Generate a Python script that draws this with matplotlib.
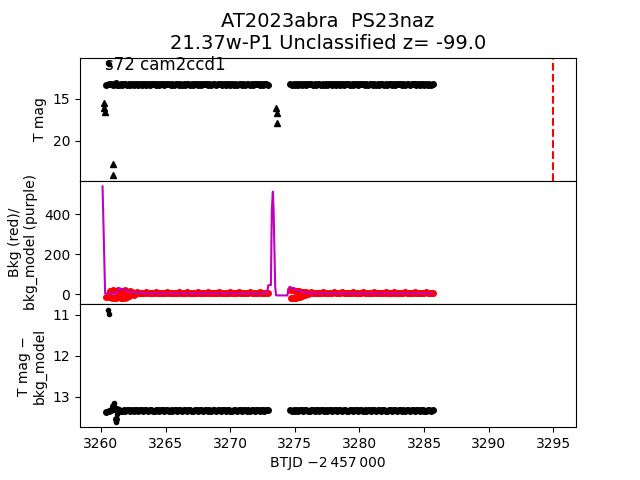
import matplotlib
matplotlib.use("Agg")
import matplotlib.pyplot as plt

# ---- data ----
# regular photometry (one time list shared by all panels)
btjd = [3260.650, 3260.775, 3260.900, 3261.025,
        3261.150, 3261.275, 3261.400, 3261.525, 3261.650, 3261.775, 3261.900, 3262.025,
        3262.150, 3262.275, 3262.400, 3262.525, 3262.650, 3262.775, 3262.900, 3263.025,
        3263.150, 3263.275, 3263.400, 3263.525, 3263.650, 3263.775, 3263.900, 3264.025,
        3264.150, 3264.275, 3264.400, 3264.525, 3264.650, 3264.775, 3264.900, 3265.025,
        3265.150, 3265.275, 3265.400, 3265.525, 3265.650, 3265.775, 3265.900, 3266.025,
        3266.150, 3266.275, 3266.400, 3266.525, 3266.650, 3266.775, 3266.900, 3267.025,
        3267.150, 3267.275, 3267.400, 3267.525, 3267.650, 3267.775, 3267.900, 3268.025,
        3268.150, 3268.275, 3268.400, 3268.525, 3268.650, 3268.775, 3268.900, 3269.025,
        3269.150, 3269.275, 3269.400, 3269.525, 3269.650, 3269.775, 3269.900, 3270.025,
        3270.150, 3270.275, 3270.400, 3270.525, 3270.650, 3270.775, 3270.900, 3271.025,
        3271.150, 3271.275, 3271.400, 3271.525, 3271.650, 3271.775, 3271.900, 3272.025,
        3272.150, 3272.275, 3272.400, 3272.525, 3272.650, 3272.775, 3272.900,
        3274.650, 3274.775, 3274.900, 3275.025,
        3275.150, 3275.275, 3275.400, 3275.525, 3275.650, 3275.775, 3275.900, 3276.025,
        3276.150, 3276.275, 3276.400, 3276.525, 3276.650, 3276.775, 3276.900, 3277.025,
        3277.150, 3277.275, 3277.400, 3277.525, 3277.650, 3277.775, 3277.900, 3278.025,
        3278.150, 3278.275, 3278.400, 3278.525, 3278.650, 3278.775, 3278.900, 3279.025,
        3279.150, 3279.275, 3279.400, 3279.525, 3279.650, 3279.775, 3279.900, 3280.025,
        3280.150, 3280.275, 3280.400, 3280.525, 3280.650, 3280.775, 3280.900, 3281.025,
        3281.150, 3281.275, 3281.400, 3281.525, 3281.650, 3281.775, 3281.900, 3282.025,
        3282.150, 3282.275, 3282.400, 3282.525, 3282.650, 3282.775, 3282.900, 3283.025,
        3283.150, 3283.275, 3283.400, 3283.525, 3283.650, 3283.775, 3283.900, 3284.025,
        3284.150, 3284.275, 3284.400, 3284.525, 3284.650, 3284.775, 3284.900, 3285.025,
        3285.150, 3285.275, 3285.400, 3285.525, 3285.650,
        3260.360]

tmag = [13.22, 13.26, 13.28, 13.20,
        13.14, 13.36, 13.38, 13.22, 13.27, 13.24, 13.23, 13.28,
        13.25, 13.28, 13.23, 13.27, 13.26, 13.24, 13.29, 13.25,
        13.27, 13.23, 13.26, 13.28, 13.24, 13.27, 13.25, 13.23,
        13.24, 13.27, 13.25, 13.29, 13.23, 13.26, 13.28, 13.24,
        13.26, 13.24, 13.28, 13.25, 13.27, 13.23, 13.26, 13.28,
        13.25, 13.28, 13.23, 13.27, 13.26, 13.24, 13.29, 13.25,
        13.27, 13.23, 13.26, 13.28, 13.24, 13.27, 13.25, 13.23,
        13.24, 13.27, 13.25, 13.29, 13.23, 13.26, 13.28, 13.24,
        13.26, 13.24, 13.28, 13.25, 13.27, 13.23, 13.26, 13.28,
        13.25, 13.28, 13.23, 13.27, 13.26, 13.24, 13.29, 13.25,
        13.27, 13.23, 13.26, 13.28, 13.24, 13.27, 13.25, 13.23,
        13.24, 13.27, 13.25, 13.29, 13.23, 13.26, 13.28,
        13.25, 13.28, 13.23, 13.27,
        13.24, 13.27, 13.25, 13.29, 13.23, 13.26, 13.28, 13.24,
        13.26, 13.24, 13.28, 13.25, 13.27, 13.23, 13.26, 13.28,
        13.25, 13.28, 13.23, 13.27, 13.26, 13.24, 13.29, 13.25,
        13.27, 13.23, 13.26, 13.28, 13.24, 13.27, 13.25, 13.23,
        13.24, 13.27, 13.25, 13.29, 13.23, 13.26, 13.28, 13.24,
        13.26, 13.24, 13.28, 13.25, 13.27, 13.23, 13.26, 13.28,
        13.25, 13.28, 13.23, 13.27, 13.26, 13.24, 13.29, 13.25,
        13.27, 13.23, 13.26, 13.28, 13.24, 13.27, 13.25, 13.23,
        13.24, 13.27, 13.25, 13.29, 13.23, 13.26, 13.28, 13.24,
        13.26, 13.24, 13.28, 13.25, 13.27, 13.23, 13.26, 13.28,
        13.25, 13.28, 13.23, 13.27, 13.26,
        13.27]

bkg = [-15, 15, 20, -18,
       -20, 14, 12, -16, -18, 10, 20, -12,
       -10, 15, 12, -5, 4, 10, 8, 6,
       6, 9, 7, 10, 5, 8, 9, 6,
       8, 10, 6, 8, 9, 5, 9, 7,
       10, 6, 8, 9, 7, 5, 8, 10,
       7, 9, 5, 8, 10, 6, 9, 8,
       6, 9, 7, 10, 5, 8, 9, 6,
       8, 10, 6, 8, 9, 5, 9, 7,
       10, 6, 8, 9, 7, 5, 8, 10,
       7, 9, 5, 8, 10, 6, 9, 8,
       6, 9, 7, 10, 5, 8, 9, 6,
       8, 10, 6, 8, 9, 5, 9,
       20, -18, -20, 16,
       18, -15, -15, 12, 10, -5, 14, 0,
       8, 10, 6, 8, 9, 5, 9, 7,
       10, 6, 8, 9, 7, 5, 8, 10,
       7, 9, 5, 8, 10, 6, 9, 8,
       6, 9, 7, 10, 5, 8, 9, 6,
       8, 10, 6, 8, 9, 5, 9, 7,
       10, 6, 8, 9, 7, 5, 8, 10,
       7, 9, 5, 8, 10, 6, 9, 8,
       6, 9, 7, 10, 5, 8, 9, 6,
       8, 10, 6, 8, 9, 5, 9, 7,
       10, 6, 8, 9, 7,
       -12]

diff = [13.34, 13.33, 13.22, 13.31,
        13.55, 13.30, 13.32, 13.35, 13.34, 13.32, 13.34, 13.33,
        13.33, 13.34, 13.32, 13.34, 13.33, 13.32, 13.34, 13.33,
        13.32, 13.34, 13.33, 13.32, 13.34, 13.33, 13.32, 13.34,
        13.34, 13.32, 13.33, 13.34, 13.32, 13.33, 13.34, 13.32,
        13.33, 13.34, 13.32, 13.34, 13.33, 13.32, 13.34, 13.33,
        13.32, 13.34, 13.33, 13.32, 13.34, 13.33, 13.32, 13.34,
        13.34, 13.32, 13.33, 13.34, 13.32, 13.33, 13.34, 13.32,
        13.33, 13.34, 13.32, 13.34, 13.33, 13.32, 13.34, 13.33,
        13.32, 13.34, 13.33, 13.32, 13.34, 13.33, 13.32, 13.34,
        13.34, 13.32, 13.33, 13.34, 13.32, 13.33, 13.34, 13.32,
        13.33, 13.34, 13.32, 13.34, 13.33, 13.32, 13.34, 13.33,
        13.32, 13.34, 13.33, 13.32, 13.34, 13.33, 13.32,
        13.33, 13.34, 13.32, 13.34,
        13.32, 13.34, 13.33, 13.32, 13.34, 13.33, 13.32, 13.34,
        13.34, 13.32, 13.33, 13.34, 13.32, 13.33, 13.34, 13.32,
        13.33, 13.34, 13.32, 13.34, 13.33, 13.32, 13.34, 13.33,
        13.32, 13.34, 13.33, 13.32, 13.34, 13.33, 13.32, 13.34,
        13.34, 13.32, 13.33, 13.34, 13.32, 13.33, 13.34, 13.32,
        13.33, 13.34, 13.32, 13.34, 13.33, 13.32, 13.34, 13.33,
        13.32, 13.34, 13.33, 13.32, 13.34, 13.33, 13.32, 13.34,
        13.34, 13.32, 13.33, 13.34, 13.32, 13.33, 13.34, 13.32,
        13.33, 13.34, 13.32, 13.34, 13.33, 13.32, 13.34, 13.33,
        13.32, 13.34, 13.33, 13.32, 13.34, 13.33, 13.32, 13.34,
        13.34, 13.32, 13.33, 13.34, 13.32,
        13.38]

# bright outliers at the very start
out_t = [3260.58, 3260.60]
out_mag = [10.71, 10.82]
out_diff = [10.87, 10.98]

# extra scattered background points in the noisy stretches
extra_t = [3260.71, 3260.84, 3261.09, 3261.34, 3261.59, 3261.84, 3262.09,
           3274.71, 3274.84, 3275.09, 3275.34, 3275.59]
extra_bkg = [18, -20, -19, 20, 16, -17, 12, -19, 20, -17, 15, -8]

# extra outliers in the difference panel
extd_t = [3261.00, 3261.05, 3261.20, 3261.25]
extd_diff = [13.16, 13.25, 13.61, 13.42]

# upper limits (triangles)
lim_t = [3260.25, 3260.28, 3260.30, 3260.95, 3260.97, 3273.58, 3273.61, 3273.62]
lim_mag = [15.54, 16.08, 16.56, 22.80, 24.14, 16.14, 16.68, 17.88]

# background model curve
model_t = [3260.13, 3260.33, 3260.50, 3261.10, 3261.18, 3261.41, 3261.80, 3262.27, 3262.80,
           3263.55, 3272.84, 3272.95, 3273.15, 3273.22, 3273.30, 3273.36, 3273.48, 3273.55,
           3274.43, 3274.50, 3274.60, 3275.00, 3275.50, 3276.18, 3285.65]
model_v = [539.5, 5, 5, 4, 3, 30, 22, 13, 8,
           5, 5, 46, 46, 420, 513, 420, 40, -5,
           -5, 25, 38, 25, 14, 5, 5]

sn_epoch = 3295.0

title = "AT2023abra  PS23naz\n21.37w-P1 Unclassified z= -99.0"
label = "s72 cam2ccd1"

# ---- figure ----
fig, (ax1, ax2, ax3) = plt.subplots(3, 1, sharex=True, figsize=(6.4, 4.8), dpi=100)
fig.subplots_adjust(hspace=0)

ax1.plot(btjd, tmag, 'k.', ms=8)
ax1.plot(out_t, out_mag, 'k.', ms=6)
ax1.plot(lim_t, lim_mag, 'k^', ms=5)
ax1.axvline(sn_epoch, color='r', ls='--')
ax1.invert_yaxis()
ax1.set_ylabel("T mag")
ax1.set_title(title, fontsize=14)
ax1.text(0.05, 0.9, label, transform=ax1.transAxes, fontsize=12)

ax2.plot(btjd, bkg, 'r.', ms=8)
ax2.plot(extra_t, extra_bkg, 'r.', ms=8)
ax2.plot(model_t, model_v, color='m', lw=1.5)
ax2.set_ylabel("Bkg (red)/\nbkg_model (purple)")

ax3.plot(btjd, diff, 'k.', ms=8)
ax3.plot(out_t, out_diff, 'k.', ms=6)
ax3.plot(extd_t, extd_diff, 'k.', ms=6)
ax3.invert_yaxis()
ax3.set_ylabel("T mag \u2212\nbkg_model")
ax3.set_xlabel("BTJD \u22122\u2009457\u2009000")

fig.savefig("out.png", dpi=100)
